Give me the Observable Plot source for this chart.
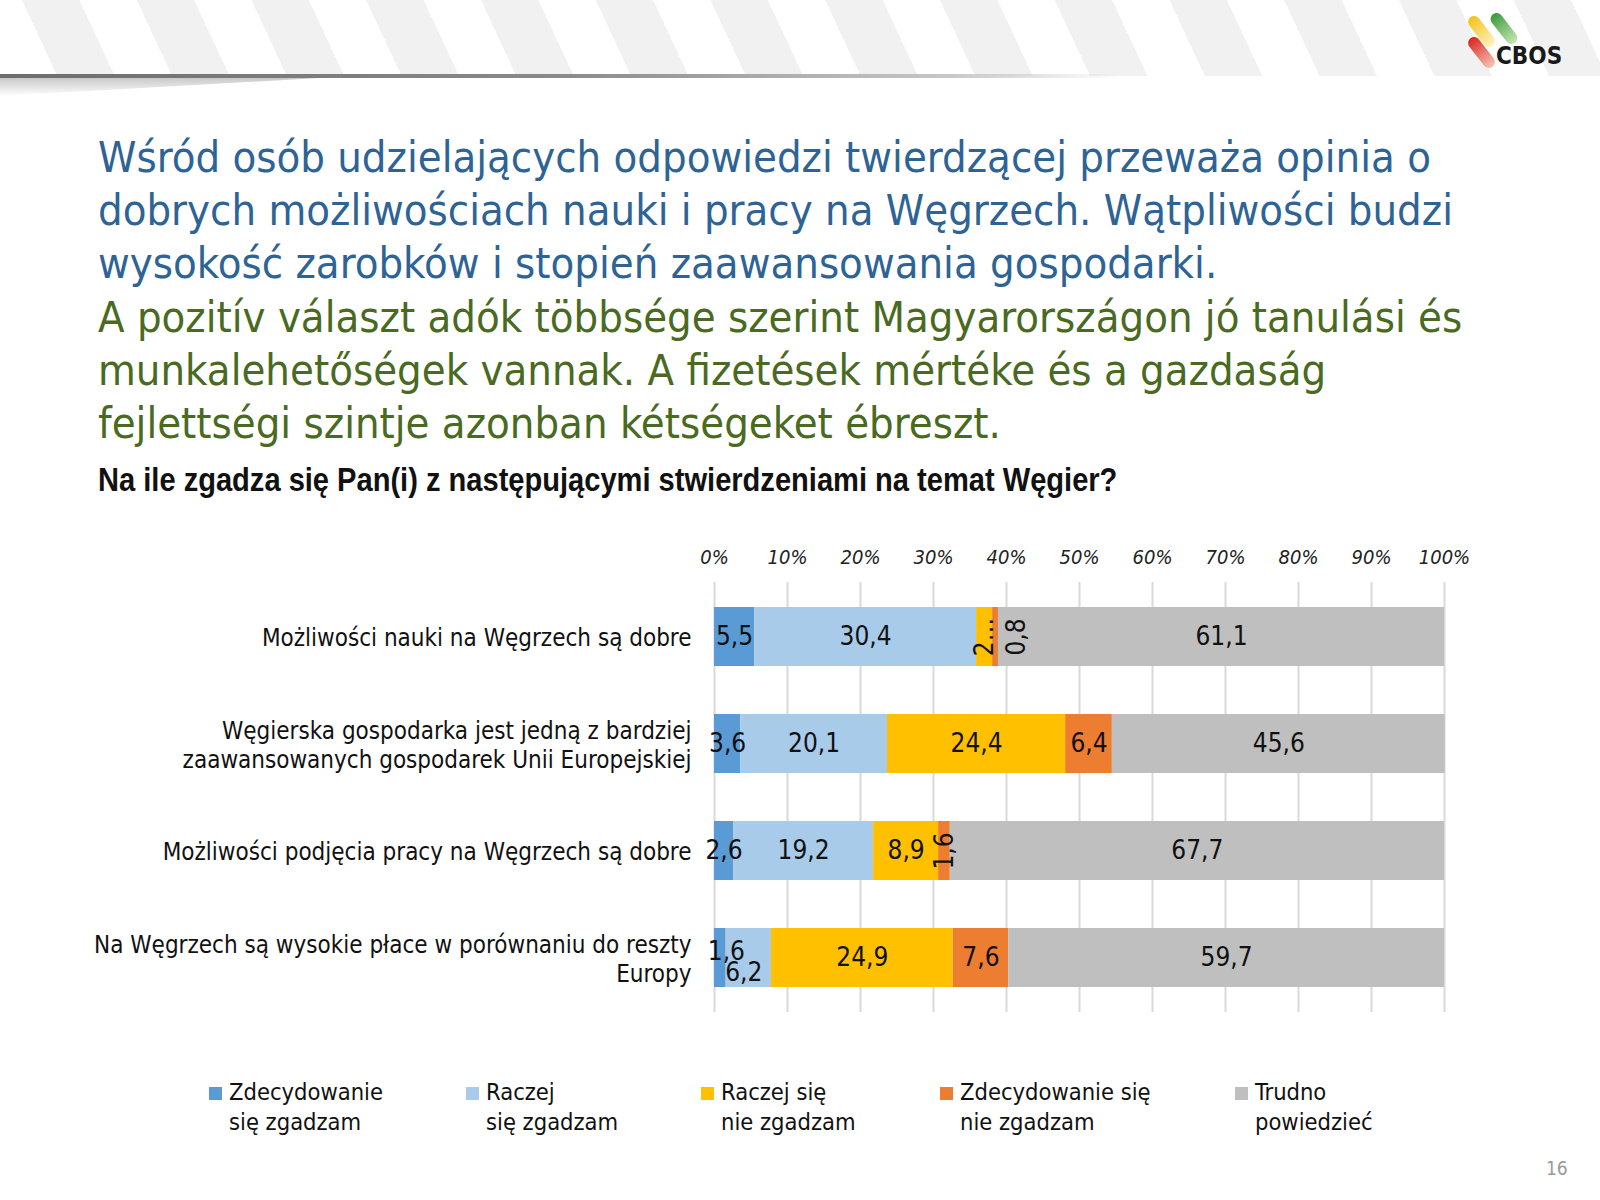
<!DOCTYPE html>
<html><head><meta charset="utf-8">
<script src="https://cdn.jsdelivr.net/npm/d3@7"></script>
<script src="https://cdn.jsdelivr.net/npm/@observablehq/plot@0.6"></script>
<style>
  html,body{margin:0;padding:0;background:#fff;}
  body{width:1600px;height:1200px;position:relative;overflow:hidden;font-family:"DejaVu Sans Condensed","DejaVu Sans",sans-serif;font-stretch:condensed;}
  #stripes{position:absolute;left:0;top:0;width:1600px;height:76px;
    background:repeating-linear-gradient(65deg,#ffffff 0px,#ffffff 52px,#f1f1f1 52px,#f1f1f1 104px);}
  #rule{position:absolute;left:0;top:74px;width:1120px;height:4px;
    background:linear-gradient(to right,#6d6d6d 0%,#8a8a8a 50%,#c8c8c8 85%,rgba(255,255,255,0) 100%);}
  #shadow{position:absolute;left:0;top:78px;width:320px;height:18px;
    background:linear-gradient(to bottom,#c9c9c9,rgba(255,255,255,0));
    clip-path:polygon(0 0,100% 0,0 100%);}
  .t{position:absolute;left:98px;white-space:nowrap;font-size:43.2px;line-height:53px;}
  .blue{color:#2E6396;}
  .green{color:#4A6A22;}
  #sub{position:absolute;left:98px;top:460px;white-space:nowrap;font-family:"Liberation Sans Narrow","Liberation Sans",sans-serif;font-weight:bold;font-size:34px;line-height:39px;color:#111;transform:scaleX(0.855);transform-origin:0 0;}
  #chart{position:absolute;left:0;top:530px;}
  .leg{position:absolute;top:1078px;font-size:23.5px;line-height:29.5px;color:#111;}
  .leg i{position:absolute;left:-20px;top:9px;width:13px;height:13px;}
  #page{position:absolute;left:1546px;top:1157px;font-size:19px;color:#999;font-family:"DejaVu Sans",sans-serif;}
  #logo{position:absolute;left:1460px;top:0px;}
</style></head>
<body>
<div id="stripes"></div><div id="rule"></div><div id="shadow"></div>
<svg id="logo" width="140" height="76" viewBox="0 0 140 76">
  <defs>
    <linearGradient id="gy" x1="0" y1="0" x2="0" y2="1"><stop offset="0" stop-color="#f2c21b"/><stop offset="1" stop-color="#fff3c0"/></linearGradient>
    <linearGradient id="gg" x1="0" y1="0" x2="0" y2="1"><stop offset="0" stop-color="#3a9a3a"/><stop offset="1" stop-color="#c9e6b5"/></linearGradient>
    <linearGradient id="gr" x1="0" y1="0" x2="0" y2="1"><stop offset="0" stop-color="#d8261f"/><stop offset="1" stop-color="#f7c4b8"/></linearGradient>
  </defs>
  <rect x="15.5" y="13.5" width="12" height="36" rx="6" fill="url(#gy)" transform="rotate(-38 21.5 31.5)"/>
  <rect x="38" y="10.5" width="12" height="36" rx="6" fill="url(#gg)" transform="rotate(-38 44 28.5)"/>
  <rect x="15.5" y="34.5" width="12" height="36" rx="6" fill="url(#gr)" transform="rotate(-38 21.5 52.5)"/>
  <text x="36" y="64" font-family="DejaVu Sans" font-weight="bold" font-size="24" fill="#1a1a1a">CBOS</text>
</svg>

<div class="t blue" style="top:131px">Wśród osób udzielających odpowiedzi twierdzącej przeważa opinia o</div>
<div class="t blue" style="top:184px">dobrych możliwościach nauki i pracy na Węgrzech. Wątpliwości budzi</div>
<div class="t blue" style="top:237px">wysokość zarobków i stopień zaawansowania gospodarki.</div>
<div class="t green" style="top:291px">A pozitív választ adók többsége szerint Magyarországon jó tanulási és</div>
<div class="t green" style="top:344px">munkalehetőségek vannak. A fizetések mértéke és a gazdaság</div>
<div class="t green" style="top:397px">fejlettségi szintje azonban kétségeket ébreszt.</div>
<div id="sub">Na ile zgadza się Pan(i) z następującymi stwierdzeniami na temat Węgier?</div>

<div id="chart"></div>
<div id="legend"></div>
<div id="page">16</div>

<script>
// ---- data ----
const categories = [
  "Możliwości nauki na Węgrzech są dobre",
  "Węgierska gospodarka jest jedną z bardziej\nzaawansowanych gospodarek Unii Europejskiej",
  "Możliwości podjęcia pracy na Węgrzech są dobre",
  "Na Węgrzech są wysokie płace w porównaniu do reszty\nEuropy"
];
const seriesNames = [
  "Zdecydowanie się zgadzam",
  "Raczej się zgadzam",
  "Raczej się nie zgadzam",
  "Zdecydowanie się nie zgadzam",
  "Trudno powiedzieć"
];
const legendLabels = [
  ["Zdecydowanie", "się zgadzam"],
  ["Raczej", "się zgadzam"],
  ["Raczej się", "nie zgadzam"],
  ["Zdecydowanie się", "nie zgadzam"],
  ["Trudno", "powiedzieć"]
];
const strongAgree    = [5.5, 3.6, 2.6, 1.6];
const ratherAgree    = [30.4, 20.1, 19.2, 6.2];
const ratherDisagree = [2.2, 24.4, 8.9, 24.9];
const strongDisagree = [0.8, 6.4, 1.6, 7.6];
const hardToSay      = [61.1, 45.6, 67.7, 59.7];
const xTicks = [0, 10, 20, 30, 40, 50, 60, 70, 80, 90, 100];
const colors = ["#5B9BD5", "#A9CBEA", "#FFC000", "#ED7D31", "#BFBFBF"];

// ---- table ----
const seriesValues = [strongAgree, ratherAgree, ratherDisagree, strongDisagree, hardToSay];
const rows = [];
categories.forEach((c, ci) => {
  seriesNames.forEach((s, si) => {
    rows.push({cat: c, ci, series: s, si, value: seriesValues[si][ci]});
  });
});
const fmt = v => String(v).replace(".", ",");

// label placement rules (Excel's layout of small labels)
const key = d => d.ci + "-" + d.si;
const rotated = new Set(["0-2", "0-3", "2-3"]);
const truncated = new Set(["0-2"]);
const shiftedRight = new Set(["0-3"]);
const up = new Set(["3-0"]);
const down = new Set(["3-1"]);
const labelText = d => truncated.has(key(d)) ? fmt(d.value).charAt(0) + "…" : fmt(d.value);
const variant = (test) => d => test(key(d)) ? labelText(d) : "";
const isNormal = k => !rotated.has(k) && !up.has(k) && !down.has(k);

const font = "'DejaVu Sans Condensed','DejaVu Sans',sans-serif";
const stackOpts = (text) => Plot.stackX({x: "value", y: "cat", text, order: null});
const LBL = 26;

const chart = Plot.plot({
  width: 1600,
  height: 500,
  marginLeft: 714,
  marginRight: 156,
  marginTop: 52,
  marginBottom: 18,
  style: {fontFamily: font, background: "transparent", color: "#111", fontStretch: "condensed"},
  x: {domain: [0, 100]},
  y: {domain: categories, paddingInner: 0.45, paddingOuter: 0.225, axis: null},
  color: {domain: seriesNames, range: colors},
  marks: [
    Plot.gridX(xTicks, {stroke: "#d9d9d9", strokeOpacity: 1, strokeWidth: 2}),
    Plot.axisX(xTicks, {anchor: "top", tickSize: 0, tickPadding: 19, tickFormat: d => d + "%",
      fontStyle: "italic", fontSize: 20, label: null, fill: "#222"}),
    Plot.barX(rows, Plot.stackX({x: "value", y: "cat", fill: "series", order: null})),
    Plot.text(rows, {...stackOpts(variant(isNormal)), fontSize: LBL, fill: "#111"}),
    Plot.text(rows, {...stackOpts(variant(k => rotated.has(k) && !shiftedRight.has(k))), rotate: -90, fontSize: LBL, fill: "#111"}),
    Plot.text(rows, {...stackOpts(variant(k => shiftedRight.has(k))), rotate: -90, dx: 21, fontSize: LBL, fill: "#111"}),
    Plot.text(rows, {...stackOpts(variant(k => up.has(k))), dy: -6, dx: 6, fontSize: LBL, fill: "#111"}),
    Plot.text(rows, {...stackOpts(variant(k => down.has(k))), dy: 15, dx: -5, fontSize: LBL, fill: "#111"}),
    Plot.text(categories, {y: d => d, text: d => d, frameAnchor: "left", textAnchor: "end", dx: -23,
      fontSize: 24, lineHeight: 1.23, fill: "#111"})
  ]
});
document.getElementById("chart").appendChild(chart);

// ---- legend ----
const legendX = [229, 486, 721, 960, 1255];
const legend = document.getElementById("legend");
legendLabels.forEach((lines, i) => {
  const el = document.createElement("div");
  el.className = "leg";
  el.style.left = legendX[i] + "px";
  el.innerHTML = `<i style="background:${colors[i]}"></i>${lines[0]}<br>${lines[1]}`;
  legend.appendChild(el);
});
</script>
</body></html>
